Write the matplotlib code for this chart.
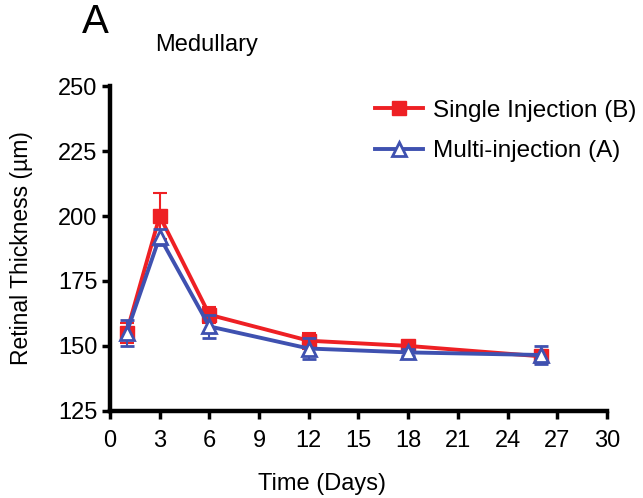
import matplotlib
matplotlib.use("Agg")
import matplotlib.pyplot as plt
from matplotlib.lines import Line2D

plt.rcParams['font.family'] = ['Liberation Sans', 'DejaVu Sans']

days = [1, 3, 6, 12, 18, 26]
single = [155, 200, 162, 152, 150, 146]
single_err = [4, 9, 3, 3, 1.5, 1.5]
multi = [155, 192, 157.5, 149, 147.5, 146.5]
multi_err = [5, 3, 4.5, 4, 1.5, 3.5]
xticks = [0, 3, 6, 9, 12, 15, 18, 21, 24, 27, 30]
yticks = [125, 150, 175, 200, 225, 250]
labels = ['Single Injection (B)', 'Multi-injection (A)']

red = '#ee2024'
blue = '#3f51b0'

fig = plt.figure(figsize=(6.43, 4.98), dpi=100)
ax = fig.add_axes([0.171, 0.175, 0.773, 0.652])

ax.errorbar(days, single, yerr=single_err, color=red, lw=2.8, marker='s', ms=10,
            mfc=red, mec=red, capsize=5, elinewidth=1.5, capthick=1.5, zorder=3)
ax.errorbar(days, multi, yerr=multi_err, color=blue, lw=2.8, marker='^', ms=10,
            mfc='white', mec=blue, mew=2, capsize=5, elinewidth=1.5, capthick=1.5,
            zorder=4)

ax.set_xlim(0, 30)
ax.set_ylim(125, 250)
ax.set_xticks(xticks)
ax.set_yticks(yticks)
for s in ['top', 'right']:
    ax.spines[s].set_visible(False)
for s in ['left', 'bottom']:
    ax.spines[s].set_linewidth(3.2)
ax.tick_params(direction='out', length=6, width=2.5, labelsize=17)
ax.tick_params(axis='x', pad=8)
ax.tick_params(axis='y', pad=3)

ax.set_xlabel('Time (Days)', fontsize=17)
ax.xaxis.set_label_coords(0.427, -0.19)
ax.set_ylabel('Retinal Thickness (µm)', fontsize=16.5, labelpad=18)

handles = [
    Line2D([], [], color=red, lw=2.8, marker='s', ms=10, mfc=red, mec=red),
    Line2D([], [], color=blue, lw=2.8, marker='^', ms=10, mfc='white', mec=blue, mew=2),
]
leg = ax.legend(handles, labels, loc='upper left', bbox_to_anchor=(0.489, 1.025),
                frameon=False, fontsize=17.5, handlelength=2.0, handletextpad=0.4,
                labelspacing=0.75)

fig.text(0.127, 0.934, 'A', fontsize=29, ha='left', va='baseline')
fig.text(0.241, 0.897, 'Medullary', fontsize=17, ha='left', va='baseline')

fig.savefig('out.png', dpi=100)
